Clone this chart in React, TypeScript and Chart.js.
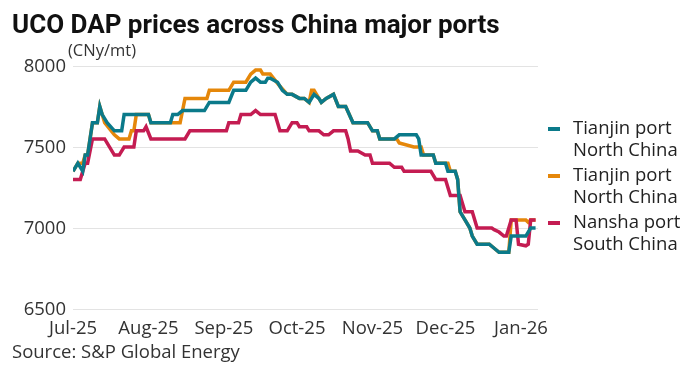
import React, { useEffect, useRef } from "react";
import { Chart, registerables } from "chart.js";

Chart.register(...registerables);

// x = days since 1 Jul 2025, y = CNy/mt
const tianjinA: [number, number][] = [
  [0, 7350], [2, 7400], [4, 7350], [5, 7450], [6, 7450], [8, 7650], [10, 7650], [11, 7750], [12, 7700],
  [14, 7650], [17, 7600], [20, 7600], [21, 7700], [31, 7700], [32, 7650], [40, 7650], [41, 7700], [43, 7700],
  [45, 7725], [54, 7725], [56, 7775], [64, 7775], [66, 7850], [71, 7850], [73, 7900], [75, 7925], [77, 7900],
  [79, 7900], [80, 7925], [81, 7925], [84, 7900], [86, 7850], [88, 7825], [90, 7825], [93, 7800], [95, 7800],
  [97, 7775], [99, 7825], [101, 7800], [102, 7775], [104, 7800], [107, 7825], [109, 7750], [112, 7750],
  [115, 7650], [121, 7650], [123, 7600], [125, 7600], [126, 7550], [132, 7550], [134, 7575], [141, 7575],
  [142, 7550], [143, 7450], [148, 7450], [149, 7400], [153, 7400], [154, 7350], [157, 7350], [158, 7300],
  [159, 7100], [161, 7050], [163, 7000], [164, 6950], [166, 6900], [171, 6900], [173, 6875], [175, 6850],
  [179, 6850], [180, 6950], [186, 6950], [188, 7000], [190, 7000],
];

const tianjinB: [number, number][] = [
  [0, 7350], [2, 7400], [4, 7400], [5, 7450], [6, 7450], [8, 7650], [10, 7650], [11, 7750], [13, 7650],
  [17, 7575], [19, 7550], [23, 7550], [24, 7600], [25, 7600], [26, 7700], [31, 7700], [32, 7650], [44, 7650],
  [46, 7800], [55, 7800], [56, 7850], [64, 7850], [66, 7900], [71, 7900], [73, 7950], [75, 7975], [77, 7975],
  [78, 7950], [81, 7950], [85, 7875], [88, 7825], [90, 7825], [93, 7800], [95, 7800], [97, 7775], [98, 7850],
  [99, 7850], [101, 7800], [102, 7775], [104, 7800], [107, 7825], [109, 7750], [112, 7750], [115, 7650],
  [121, 7650], [123, 7600], [125, 7600], [126, 7550], [133, 7550], [134, 7525], [140, 7500], [143, 7500],
  [144, 7450], [148, 7450], [149, 7400], [154, 7400], [155, 7350], [157, 7350], [158, 7300], [159, 7100],
  [161, 7050], [163, 7000], [164, 6950], [166, 6900], [171, 6900], [173, 6875], [175, 6850], [179, 6850],
  [180, 7050], [186, 7050], [187, 7035], [188, 7050], [190, 7050],
];

const nansha: [number, number][] = [
  [0, 7300], [3, 7300], [5, 7400], [6, 7400], [8, 7550], [13, 7550], [17, 7450], [19, 7450], [21, 7500],
  [25, 7500], [26, 7600], [29, 7600], [30, 7625], [32, 7550], [46, 7550], [48, 7600], [63, 7600], [64, 7650],
  [68, 7650], [69, 7700], [73, 7700], [75, 7725], [77, 7700], [83, 7700], [85, 7600], [88, 7600], [90, 7650],
  [92, 7650], [93, 7625], [96, 7625], [97, 7600], [101, 7600], [103, 7575], [105, 7575], [107, 7600],
  [112, 7600], [113, 7550], [114, 7475], [117, 7475], [120, 7450], [122, 7450], [123, 7400], [130, 7400],
  [132, 7375], [135, 7375], [136, 7350], [147, 7350], [149, 7300], [153, 7300], [155, 7200], [159, 7200],
  [161, 7100], [164, 7100], [166, 7000], [172, 7000], [173, 6990], [175, 6975], [177, 6950], [178, 6950],
  [180, 7050], [182, 7050], [183, 6900], [186, 6890], [187, 6900], [188, 7050], [190, 7050],
];

const seriesNames = ["Tianjin port North China", "Tianjin port North China", "Nansha port South China"];
const legendLines: [string, string][] = [
  ["Tianjin port", "North China"],
  ["Tianjin port", "North China"],
  ["Nansha port", "South China"],
];
const seriesColors = ["#0B7A8A", "#E5870A", "#C41C52"];

const monthTickDays = [0, 31, 62, 92, 123, 153, 184];
const monthTickLabels = ["Jul-25", "Aug-25", "Sep-25", "Oct-25", "Nov-25", "Dec-25", "Jan-26"];
const yTicks = [6500, 7000, 7500, 8000];

const FONT = "'Open Sans', Roboto, sans-serif";
const TITLE_FONT = "Roboto, 'Open Sans', sans-serif";

export default function App() {
  const ref = useRef<HTMLCanvasElement | null>(null);

  useEffect(() => {
    const canvas = ref.current;
    if (!canvas) return;
    const chart = new Chart(canvas, {
      type: "line",
      data: {
        datasets: [
          { label: seriesNames[0], data: tianjinA, borderColor: seriesColors[0], order: 0 },
          { label: seriesNames[1], data: tianjinB, borderColor: seriesColors[1], order: 2 },
          { label: seriesNames[2], data: nansha, borderColor: seriesColors[2], order: 1 },
        ].map((d) => ({ ...d, borderWidth: 3.5, pointRadius: 0, tension: 0, fill: false })),
      },
      options: {
        animation: false,
        responsive: false,
        devicePixelRatio: 1,
        layout: { padding: { left: 0, right: 144, top: 66, bottom: 30 } },
        plugins: { legend: { display: false }, tooltip: { enabled: false }, title: { display: false } },
        scales: {
          x: {
            type: "linear",
            min: 0,
            max: 191,
            grid: { display: false },
            border: { display: false },
            afterBuildTicks: (scale: any) => {
              scale.ticks = monthTickDays.map((v) => ({ value: v }));
            },
            afterFit: (scale: any) => {
              scale.height = 30;
              scale.paddingLeft = 0;
              scale.paddingRight = 0;
            },
            ticks: {
              autoSkip: false,
              maxRotation: 0,
              padding: 1,
              color: "#333",
              font: { family: FONT, size: 18.5 },
              callback: (v: any) => {
                const i = monthTickDays.indexOf(Number(v));
                return i >= 0 ? monthTickLabels[i] : "";
              },
            },
          },
          y: {
            min: 6500,
            max: 8000,
            grid: { color: "#e3e3e3", lineWidth: 1, drawTicks: false },
            border: { display: false },
            afterBuildTicks: (scale: any) => {
              scale.ticks = yTicks.map((v) => ({ value: v }));
            },
            afterFit: (scale: any) => {
              scale.width = 73;
              scale.paddingTop = 0;
              scale.paddingBottom = 0;
            },
            ticks: {
              padding: 7,
              color: "#333",
              labelOffset: 1,
              font: { family: FONT, size: 18.5 },
              callback: (v: any) => String(v),
            },
          },
        },
      },
    });
    return () => chart.destroy();
  }, []);

  return (
    <div style={{ position: "fixed", left: 0, top: 0, width: 682, height: 369, background: "#fff", fontFamily: FONT, color: "#222" }}>
      <canvas ref={ref} width={682} height={369} style={{ position: "absolute", left: 0, top: 0, width: 682, height: 369 }} />
      <div style={{ position: "absolute", left: 12, top: 9, fontFamily: TITLE_FONT, fontSize: 26, fontWeight: 700, lineHeight: "30px", color: "#111", whiteSpace: "nowrap" }}>
        UCO DAP prices across China major ports
      </div>
      <div style={{ position: "absolute", left: 68, top: 40, fontSize: 16.5, lineHeight: "20px", color: "#333" }}>(CNy/mt)</div>
      {legendLines.map((lines, i) => (
        <div key={i} style={{ position: "absolute", left: 548, top: 116 + i * 47, display: "flex", alignItems: "flex-start" }}>
          <div style={{ width: 12, height: 4, background: seriesColors[i], marginTop: 11, marginRight: 13 }} />
          <div style={{ fontSize: 18.5, lineHeight: "22px", color: "#222", whiteSpace: "nowrap" }}>
            {lines[0]}
            <br />
            {lines[1]}
          </div>
        </div>
      ))}
      <div style={{ position: "absolute", left: 12, top: 339, fontSize: 18.5, lineHeight: "24px", color: "#333" }}>
        Source: S&amp;P Global Energy
      </div>
    </div>
  );
}
